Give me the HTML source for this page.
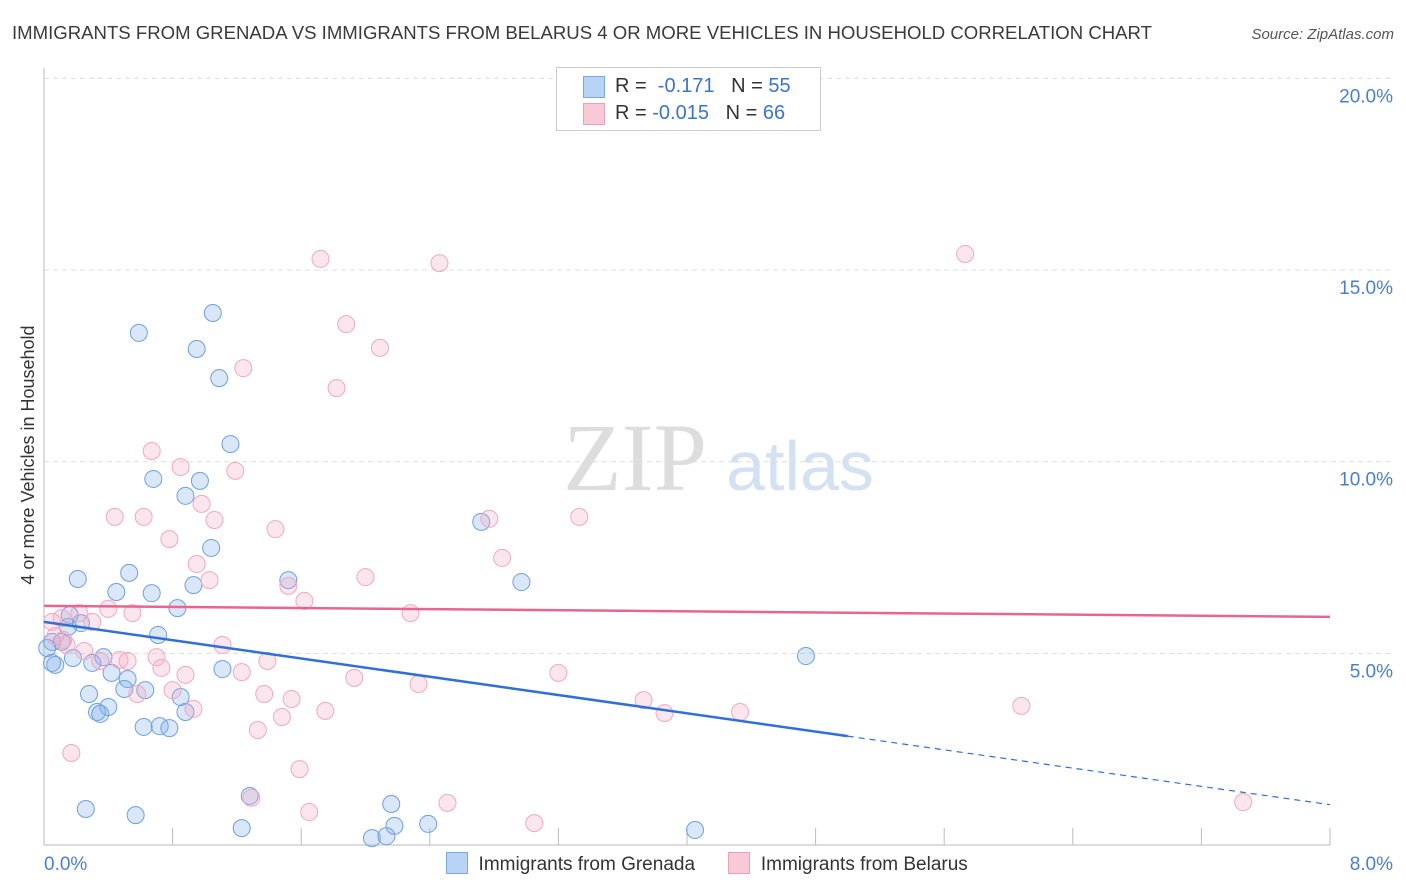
<!DOCTYPE html>
<html><head><meta charset="utf-8"><style>
body{margin:0;background:#fff;font-family:"Liberation Sans",sans-serif}
#c{position:relative;width:1406px;height:892px;overflow:hidden}
</style></head><body>
<div id="c">
<svg id="s" width="1406" height="892">
<text x="12" y="39" font-size="18.5" fill="#3a3a3a" textLength="1140" lengthAdjust="spacingAndGlyphs">IMMIGRANTS FROM GRENADA VS IMMIGRANTS FROM BELARUS 4 OR MORE VEHICLES IN HOUSEHOLD CORRELATION CHART</text>
<text x="1394" y="39" font-size="15" fill="#555" text-anchor="end" font-style="italic">Source: ZipAtlas.com</text>
<text x="34" y="455" font-size="18" fill="#333" text-anchor="middle" transform="rotate(-90 34 455)">4 or more Vehicles in Household</text>
<text x="635" y="490" font-size="96" fill="#ddd" font-family="Liberation Serif,serif" text-anchor="middle">ZIP</text>
<text x="800" y="490" font-size="70" fill="#d3e1f3" text-anchor="middle">atlas</text>
<g id="grid"></g><g id="pts"></g><g id="lines"></g>
</svg>
<div style="position:absolute;left:556px;top:67px;width:263px;height:62px;border:1px solid #ccc;background:#fff;font-size:20px;color:#333">
 <div style="position:absolute;left:26px;top:8px;width:20px;height:20px;background:#b9d3f5;border:1px solid #7aa7e2"></div>
 <div style="position:absolute;left:58px;top:7px">R = &nbsp;<span style="color:#3b73d1">-0.171</span> &nbsp;&nbsp;N = <span style="color:#3b73d1">55</span></div>
 <div style="position:absolute;left:26px;top:35px;width:20px;height:20px;background:#f9c9d8;border:1px solid #eea0ba"></div>
 <div style="position:absolute;left:58px;top:34px">R = <span style="color:#3b73d1">-0.015</span> &nbsp;&nbsp;N = <span style="color:#3b73d1">66</span></div>
</div>
<div style="position:absolute;top:852px;left:446px;font-size:19px;color:#333">
 <span style="display:inline-block;width:20px;height:20px;background:#b9d3f5;border:1px solid #7aa7e2;vertical-align:-4px"></span>&nbsp; Immigrants from Grenada
 <span style="display:inline-block;width:20px;height:20px;background:#f9c9d8;border:1px solid #eea0ba;vertical-align:-4px;margin-left:28px"></span>&nbsp; Immigrants from Belarus
</div>
</div>
<script>
const blueX=[0.59,1.05,0.95,1.09,1.16,0.68,0.97,0.88,1.04,0.21,0.53,0.45,0.67,0.93,1.52,2.72,2.97,0.83,0.16,0.15,0.23,0.71,0.05,0.11,0.02,0.37,0.18,0.30,0.07,1.11,0.42,0.52,0.50,0.28,0.63,0.85,0.40,0.33,0.35,0.88,0.62,0.72,0.78,1.28,2.16,0.26,0.57,1.23,2.18,2.39,4.05,2.04,2.13,4.74,0.05];
const blueY=[13.36,13.88,12.94,12.18,10.46,9.55,9.50,9.11,7.75,6.94,7.10,6.60,6.57,6.78,6.91,8.43,6.86,6.18,6.00,5.69,5.79,5.48,5.30,5.30,5.14,4.90,4.88,4.75,4.70,4.59,4.49,4.33,4.07,3.94,4.04,3.86,3.60,3.47,3.42,3.47,3.08,3.10,3.05,1.28,1.07,0.94,0.78,0.44,0.50,0.55,0.39,0.18,0.23,4.93,4.75];
const pinkX=[1.72,2.46,5.73,1.88,2.09,1.24,1.82,0.67,0.85,1.19,0.44,0.62,1.06,0.98,1.44,2.77,3.33,0.78,0.95,2.85,1.03,2.00,1.52,1.62,0.40,0.55,0.22,2.28,0.30,0.05,0.12,0.14,1.11,0.70,0.25,0.52,0.47,0.73,1.39,1.23,1.93,3.20,0.88,2.33,0.80,1.37,0.58,1.54,0.93,1.75,3.73,1.48,3.86,4.33,6.08,1.33,0.17,1.59,1.29,2.51,1.65,3.05,7.46,0.11,0.07,0.35];
const pinkY=[15.29,15.18,15.42,13.59,12.97,12.44,11.92,10.28,9.86,9.76,8.56,8.56,8.48,8.90,8.24,8.51,8.56,7.98,7.33,7.49,6.91,6.99,6.76,6.37,6.16,6.05,6.05,6.05,5.82,5.82,5.35,5.22,5.22,4.90,5.06,4.80,4.83,4.62,4.80,4.51,4.36,4.49,4.44,4.20,4.04,3.94,3.94,3.81,3.55,3.50,3.78,3.34,3.44,3.47,3.63,3.00,2.40,1.98,1.23,1.10,0.86,0.57,1.12,5.92,5.45,4.80];
const yTicks=[5,10,15,20];
const xTicks=[0,0.8,1.6,2.4,3.2,4,4.8,5.6,6.4,7.2,8];
const blueTrend=[5.82,-0.596]; const pinkTrend=[6.24,-0.036];
const X=v=>44+v*160.75, Y=v=>845-v*38.33;
const NS="http://www.w3.org/2000/svg";
function mk(p,t,a){const e=document.createElementNS(NS,t);for(const k in a)e.setAttribute(k,a[k]);p.appendChild(e);return e;}
const g=document.getElementById('grid');
const ax=mk(g,'line',{x1:44,y1:68,x2:44,y2:845,stroke:'#bbb'});


const bx=mk(g,'line',{x1:44,y1:845,x2:1330,y2:845,stroke:'#bbb'});


yTicks.forEach(t=>{const l=mk(g,'line',{x1:44,y1:Y(t),x2:1394,y2:Y(t),stroke:'#ddd','stroke-dasharray':'5,4'});


const tx=mk(g,'text',{x:1393,y:Y(t)+24,'font-size':19,fill:'#4a7fd0','text-anchor':'end'});tx.textContent=t.toFixed(1)+'%';

});
xTicks.forEach(t=>{const l=mk(g,'line',{x1:X(t),y1:828,x2:X(t),y2:845,stroke:'#bbb'});

});
[[0,'start',44],[8,'end',1393]].forEach(([v,a,x])=>{const tx=mk(g,'text',{x:x,y:870,'font-size':19,fill:'#4a7fd0','text-anchor':a});tx.textContent=v.toFixed(1)+'%';

});
const p=document.getElementById('pts');
blueX.forEach((v,i)=>{const c=mk(p,'circle',{cx:X(v),cy:Y(blueY[i]),r:8.5,fill:'rgba(130,175,235,0.3)',stroke:'#6f9fe0','stroke-width':1});

});
pinkX.forEach((v,i)=>{const c=mk(p,'circle',{cx:X(v),cy:Y(pinkY[i]),r:8.5,fill:'rgba(245,165,195,0.28)',stroke:'#f0a8c0','stroke-width':1});

});
const L=document.getElementById('lines');
const b1=mk(L,'line',{x1:X(0),y1:Y(blueTrend[0]),x2:X(5),y2:Y(blueTrend[0]+5*blueTrend[1]),stroke:'#2f6fd6','stroke-width':2.5});


const b2=mk(L,'line',{x1:X(5),y1:Y(blueTrend[0]+5*blueTrend[1]),x2:X(8),y2:Y(blueTrend[0]+8*blueTrend[1]),stroke:'#2f6fd6','stroke-width':1.2,'stroke-dasharray':'6,5'});


const p1=mk(L,'line',{x1:X(0),y1:Y(pinkTrend[0]),x2:X(8),y2:Y(pinkTrend[0]+8*pinkTrend[1]),stroke:'#e8658f','stroke-width':2.5});


</script>
</body></html>
